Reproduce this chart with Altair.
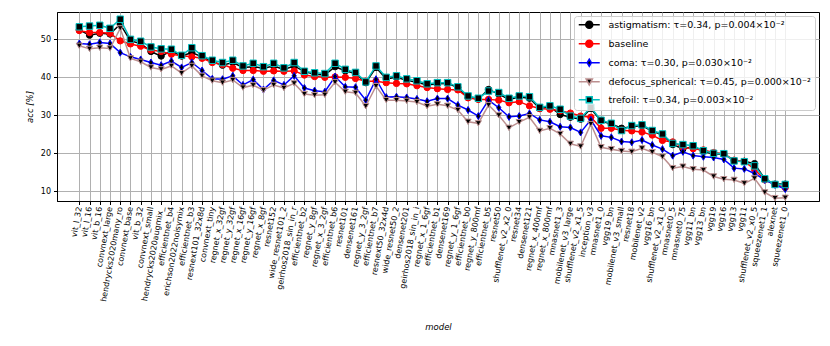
import altair as alt
import pandas as pd

models = [
    "vit_l_32", "vit_l_16", "vit_b_16", "convnext_large", "hendrycks2020many_ro",
    "convnext_base", "vit_b_32", "convnext_small", "hendrycks2020augmix_", "efficientnet_b4",
    "erichson2022noisymix", "efficientnet_b3", "resnext101_32x8d", "convnext_tiny", "regnet_x_32gf",
    "regnet_y_32gf", "regnet_x_16gf", "regnet_y_16gf", "regnet_x_8gf", "resnet152",
    "wide_resnet101_2", "geirhos2018_sin_in_r", "efficientnet_b2", "regnet_y_8gf", "regnet_x_3_2gf",
    "efficientnet_b6", "resnet101", "densenet161", "regnet_y_3_2gf", "efficientnet_b7",
    "resnext50_32x4d", "wide_resnet50_2", "densenet201", "geirhos2018_sin_in_i", "regnet_x_1_6gf",
    "efficientnet_b1", "densenet169", "regnet_y_1_6gf", "efficientnet_b0", "regnet_y_800mf",
    "efficientnet_b5", "resnet50", "shufflenet_v2_x2_0", "resnet34", "densenet121",
    "regnet_x_400mf", "regnet_x_800mf", "mnasnet1_3", "mobilenet_v3_large", "shufflenet_v2_x1_5",
    "inception_v3", "mnasnet1_0", "vgg19_bn", "mobilenet_v3_small", "resnet18",
    "mobilenet_v2", "vgg16_bn", "shufflenet_v2_x1_0", "mnasnet0_5", "mnasnet0_75",
    "vgg11_bn", "vgg13_bn", "vgg19", "vgg16", "vgg13",
    "vgg11", "shufflenet_v2_x0_5", "squeezenet1_1", "alexnet", "squeezenet1_0",
]

astigmatism = [
    52.5, 51.1, 51.6, 51.4, 54.0, 49.6, 48.9, 46.8, 45.6, 47.0,
    45.6, 46.5, 45.4, 44.1, 43.2, 43.9, 42.6, 42.8, 42.4, 43.0,
    42.1, 43.0, 41.5, 40.8, 40.6, 42.8, 41.7, 41.0, 38.6, 42.6,
    39.6, 40.0, 39.2, 38.7, 38.0, 38.3, 38.4, 37.3, 34.7, 34.3,
    36.8, 35.6, 34.2, 34.8, 34.5, 31.8, 32.3, 30.2, 29.5, 29.0,
    31.8, 28.5, 27.7, 26.6, 27.0, 27.3, 25.8, 24.9, 22.3, 21.2,
    21.7, 20.5, 19.8, 19.8, 18.1, 17.9, 17.3, 13.2, 11.9, 11.9,
]
baseline = [
    52.3, 51.8, 51.8, 51.6, 49.6, 48.8, 48.2, 47.2, 46.8, 46.1,
    45.7, 45.4, 45.0, 43.9, 43.4, 42.4, 41.8, 41.8, 41.6, 41.7,
    41.6, 41.7, 40.6, 40.2, 40.0, 40.1, 40.0, 39.7, 39.0, 39.0,
    38.6, 38.4, 38.3, 37.8, 37.3, 37.0, 36.8, 36.7, 34.6, 34.2,
    34.2, 34.0, 33.3, 33.6, 32.5, 31.8, 31.6, 31.2, 30.6, 29.8,
    29.5, 26.6, 26.6, 26.1, 25.9, 25.6, 24.8, 23.4, 23.0, 21.6,
    21.2, 20.9, 20.2, 19.9, 18.2, 17.9, 15.8, 13.0, 11.8, 11.0,
]
coma = [
    48.9, 48.7, 49.2, 48.9, 46.5, 45.4, 44.7, 43.9, 43.2, 44.3,
    42.6, 43.9, 41.8, 39.6, 39.5, 40.4, 38.0, 39.4, 36.8, 39.2,
    38.0, 40.4, 37.2, 36.5, 36.2, 40.2, 37.5, 37.4, 34.0, 39.5,
    34.8, 34.9, 34.7, 34.3, 33.7, 34.4, 34.4, 32.7, 31.4, 29.8,
    34.0, 32.0, 29.6, 29.8, 30.5, 28.8, 28.3, 27.0, 26.8, 25.5,
    28.8, 24.6, 24.2, 23.1, 22.9, 23.5, 22.2, 21.1, 19.4, 20.4,
    19.4, 19.1, 18.9, 18.4, 16.1, 15.9, 14.7, 13.0, 11.7, 10.6,
]
defocus_spherical = [
    48.3, 47.5, 47.8, 47.6, 52.9, 45.0, 44.1, 42.6, 42.1, 43.0,
    41.1, 43.0, 40.4, 39.1, 38.6, 39.3, 37.3, 37.9, 36.6, 38.0,
    37.2, 38.4, 35.6, 35.3, 35.4, 38.7, 36.2, 35.9, 32.4, 37.7,
    34.0, 34.0, 33.8, 33.5, 32.4, 32.9, 32.5, 31.4, 28.3, 27.9,
    32.7, 30.0, 26.7, 28.2, 29.5, 25.9, 26.6, 25.1, 22.5, 21.8,
    27.7, 21.6, 21.1, 20.6, 20.4, 21.3, 20.3, 19.1, 16.1, 16.5,
    15.8, 15.6, 13.9, 13.2, 13.0, 12.1, 13.4, 9.7, 8.2, 8.3,
]
trefoil = [
    53.3, 53.5, 53.7, 52.9, 55.3, 50.0, 49.5, 48.0, 47.5, 47.4,
    45.8, 47.8, 45.7, 44.5, 43.9, 44.5, 43.0, 43.7, 42.8, 43.7,
    42.5, 43.9, 41.6, 41.2, 41.0, 43.7, 42.1, 41.3, 38.8, 43.0,
    40.0, 40.4, 39.6, 39.1, 38.3, 38.6, 38.6, 37.5, 35.1, 34.5,
    36.4, 36.0, 34.5, 35.1, 34.9, 32.1, 32.5, 31.6, 29.8, 29.2,
    32.1, 28.7, 27.9, 26.0, 27.3, 27.5, 26.0, 25.1, 22.6, 22.3,
    22.0, 20.7, 20.0, 19.9, 18.0, 17.8, 16.7, 13.3, 11.8, 11.8,
]

series_keys = ["astigmatism", "baseline", "coma", "defocus_spherical", "trefoil"]
series_labels = [
    "astigmatism: τ=0.34, p=0.004×10⁻²",
    "baseline",
    "coma: τ=0.30, p=0.030×10⁻²",
    "defocus_spherical: τ=0.45, p=0.000×10⁻²",
    "trefoil: τ=0.34, p=0.003×10⁻²",
]
series_values = [astigmatism, baseline, coma, defocus_spherical, trefoil]

line_colors = ["#000000", "#ff0000", "#0000ff", "#bc8f8f", "#00bfbf"]
marker_fills = ["#000000", "#ff0000", "#000000", "#000000", "#000000"]
marker_shapes = [
    "circle",
    "circle",
    "M0,-1L0.6,0L0,1L-0.6,0Z",
    "triangle-down",
    "square",
]
marker_sizes = [40, 40, 50, 38, 42]
legend_shapes = [
    "M-3,0H-1M1,0H3M1,0A1,1 0 1,1 -1,0A1,1 0 1,1 1,0Z",
    "M-3,0H-1M1,0H3M1,0A1,1 0 1,1 -1,0A1,1 0 1,1 1,0Z",
    "M-3,0H-0.6M0.6,0H3M0,-1L0.6,0L0,1L-0.6,0Z",
    "M-3,0H-0.6M0.6,0H3M-0.9,-0.8L0.9,-0.8L0,0.9Z",
    "M-3,0H-0.85M0.85,0H3M-0.85,-0.85H0.85V0.85H-0.85Z",
]

rows = []
for key, label, vals in zip(series_keys, series_labels, series_values):
    for i, (m, v) in enumerate(zip(models, vals)):
        rows.append({"model": m, "idx": i, "acc": v, "key": key, "series": label})
df = pd.DataFrame(rows)

label_array = "[" + ",".join("'" + m + "'" for m in models) + "]"

x_enc = alt.X(
    "idx:Q",
    scale=alt.Scale(domain=[-2.18, 72.3], nice=False, zero=False),
    axis=alt.Axis(
        values=list(range(len(models))),
        labelExpr=label_array + "[datum.value]",
        labelAngle=280,
        labelAlign="right",
        labelBaseline="middle",
        labelOverlap=False,
        labelPadding=2,
        labelFontSize=8,
        title="model",
        titlePadding=21,
    ),
)
y_enc = alt.Y(
    "acc:Q",
    scale=alt.Scale(domain=[7.45, 57.2], nice=False, zero=False),
    axis=alt.Axis(values=[10, 20, 30, 40, 50], title="acc [%]", labelFontSize=8,
                  labelPadding=3, titlePadding=6),
)

base = alt.Chart(df)
layers = []
for key, col, fill, shape, size in zip(series_keys, line_colors, marker_fills, marker_shapes, marker_sizes):
    sub = base.transform_filter(alt.datum.key == key)
    layers.append(sub.mark_line(color=col, strokeWidth=1.5, clip=True).encode(x=x_enc, y=y_enc))
    layers.append(
        sub.mark_point(shape=shape, filled=True, fill=fill, stroke=col, strokeWidth=1,
                       size=size, opacity=1, clip=True).encode(x=x_enc, y=y_enc)
    )

leg = alt.Legend(
    title=None, orient="top-right", offset=4,
    fillColor="rgba(255,255,255,0.8)", strokeColor="#cccccc", cornerRadius=3,
    padding=4, labelFont="DejaVu Sans", labelFontSize=9.5, labelColor="black",
    labelLimit=320, symbolSize=49, symbolStrokeWidth=1.5, symbolOffset=6.5,
    labelOffset=14.5, rowPadding=5, symbolOpacity=1,
)
legend_layer = base.transform_filter("false").mark_point(filled=True, opacity=1).encode(
    x=x_enc, y=y_enc,
    shape=alt.Shape("series:N", scale=alt.Scale(domain=series_labels, range=legend_shapes), legend=leg),
    stroke=alt.Stroke("series:N", scale=alt.Scale(domain=series_labels, range=line_colors), legend=leg),
    fill=alt.Fill("series:N", scale=alt.Scale(domain=series_labels, range=marker_fills), legend=leg),
)
layers.append(legend_layer)

chart = alt.layer(*layers).properties(
    width=762, height=189,
    padding={"left": 49, "top": 4, "right": 2, "bottom": 130},
    autosize=alt.AutoSizeParams(type="none"),
).configure_view(
    stroke="black", strokeWidth=1
).configure_axis(
    grid=True, gridColor="#b0b0b0", gridWidth=1,
    domainColor="black", tickColor="black", tickSize=3.5,
    labelColor="black", titleColor="black",
    labelFont="DejaVu Sans", titleFont="DejaVu Sans",
    titleFontSize=8.5, titleFontStyle="italic", titleFontWeight="normal",
)

chart.save("out.html", embed_options={"renderer": "svg", "actions": False})
